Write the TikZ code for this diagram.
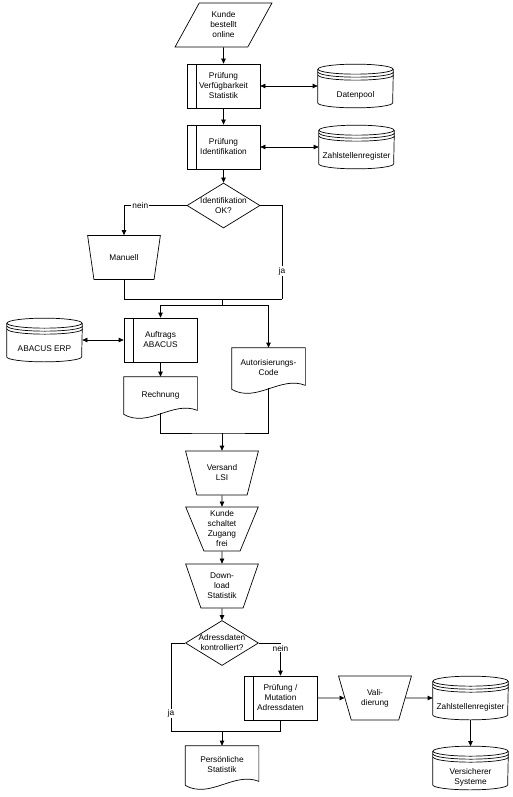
\documentclass[tikz,border=0pt]{standalone}
\usepackage{fontspec}
\setmainfont{Liberation Sans}
\usetikzlibrary{calc,shapes.geometric,arrows.meta}
\tikzset{
	every node/.style={font=\fontsize{8.3}{10}\selectfont, align=center},
	proc/.style={draw, minimum width=73pt, minimum height=44pt, inner sep=1pt,
		path picture={\draw ([xshift=9pt]path picture bounding box.north west) -- ([xshift=9pt]path picture bounding box.south west);}},
	manual/.style={draw, trapezium, trapezium stretches=true, shape border rotate=180,
		trapezium left angle=68, trapezium right angle=68, minimum width=73pt, minimum height=44pt, inner sep=1pt},
	inout/.style={draw, trapezium, trapezium stretches=true,
		trapezium left angle=63.4, trapezium right angle=116.6, minimum width=97pt, minimum height=44pt, inner sep=1pt},
	decide/.style={draw, diamond, aspect=1.6, minimum width=73pt, minimum height=45pt, inner sep=-6pt},
	disk/.style={minimum width=75pt, minimum height=43pt, inner sep=0pt},
	doc/.style={minimum width=73pt, minimum height=36pt, inner sep=1pt},
	lbl/.style={fill=white, inner sep=1pt}
}
\def\diskshape#1#2{
	\draw ($(#1.north west)+(0,5)$) -- ($(#1.south west)+(0,-5)$) arc (180:0:37.5 and 5) -- ($(#1.north east)+(0,5)$);
	\draw ($(#1.north)+(0,5)$) ellipse (37.5 and 5);
	\draw ($(#1.north east)+(0,8)$) arc (0:180:37.5 and 5);
	\draw ($(#1.north east)+(0,11)$) arc (0:180:37.5 and 5);
	\node (#1-txt) at ($(#1)+(0,9)$) {#2};
}
\def\docshape#1{
	\draw ($(#1.south west)+(0,1)$) -- (#1.north west) -- (#1.north east) -- ($(#1.south east)+(0,-3)$)
		.. controls ($(#1.south)+(12,-13)$) and ($(#1.south)+(-12,15)$) .. ($(#1.south west)+(0,1)$);
}

\begin{document}
\begin{tikzpicture}[x=1pt, y=-1pt, line width=0.7pt, >={Triangle[length=5pt,width=4.5pt]}]
	\useasboundingbox (0,0) rectangle (513,797);
	%%%%% START %%%%%
	
	\node[inout] (start) at (223.5,25) {Kunde\\bestellt\\online};
	\node[proc] (pruef1) at (223.5,86) {Prüfung\\Verfügbarkeit\\Statistik};
	\node[disk] (pool) at (355.5,86) {};
	\diskshape{pool}{Datenpool}
	\node[proc] (pruef2) at (223.5,147) {Prüfung\\Identifikation};
	\node[disk] (zahl1) at (356.5,147) {};
	\diskshape{zahl1}{Zahlstellenregister}
	\node[decide] (ident) at (223.5,205.5) {Identifikation\\OK?};
	\node[manual] (manuell) at (124,257.5) {Manuell};
	
	\node[proc] (auftrag) at (160.5,340) {Auftrags\\ABACUS};
	\node[disk] (erp) at (44.5,340) {};
	\diskshape{erp}{ABACUS ERP}
	\node[doc] (rechnung) at (160.5,395) {Rechnung};
	\docshape{rechnung}
	\node[doc, minimum height=40pt] (autor) at (268.5,368) {Autorisierungs-\\Code};
	\docshape{autor}
	
	\node[manual] (versand) at (222,473) {Versand\\LSI};
	\node[manual] (zugang) at (222,529) {Kunde\\schaltet\\Zugang\\frei};
	\node[manual] (download) at (222,586) {Down-\\load\\Statistik};
	\node[decide] (adress) at (222,643) {Adressdaten\\kontrolliert?};
	
	\node[proc] (mutation) at (280.5,698) {Prüfung /\\Mutation\\Adressdaten};
	\node[manual] (valid) at (375,698) {Vali-\\dierung};
	\node[disk] (zahl2) at (470.5,698) {};
	\diskshape{zahl2}{Zahlstellenregister}
	\node[disk] (versich) at (470.5,768) {};
	\diskshape{versich}{Versicherer\\Systeme}
	\node[doc, minimum height=38pt] (statistik) at (222,765) {Persönliche\\Statistik};
	\docshape{statistik}
	
	\coordinate (jaecke) at (282,299);
	\coordinate (mitte1) at (222,299);
	\coordinate (split1) at (222,305);
	\coordinate (mitte2) at (222,433);
	\coordinate (jaecke2) at (171,731);
	\coordinate (mitte3) at (222,731);
	
	\draw[->] (start) -- (pruef1);
	\draw[<->] (pruef1) -- (pool);
	\draw[->] (pruef1) -- (pruef2);
	\draw[<->] (pruef2) -- (zahl1);
	\draw[->] (pruef2) -- (ident);
	\draw[->] (ident.west) -| (manuell.north) node[lbl, pos=0.37] {nein};
	\draw (ident.east) -| (jaecke) node[lbl, pos=0.85] {ja};
	\draw (manuell.south) |- (jaecke);
	\draw (mitte1) -- (split1);
	\draw[->] (split1) -| (auftrag.north);
	\draw[->] (split1) -| (autor.north);
	
	\draw[<->] (erp) -- (auftrag);
	\draw[->] (auftrag) -- (rechnung);
	\draw (rechnung.south) |- (mitte2) -| (autor.south);
	\draw[->] (mitte2) -- (versand);
	\draw[->] (versand) -- (zugang);
	\draw[->] (zugang) -- (download);
	\draw[->] (download) -- (adress);
	
	\draw (adress.west) -| (jaecke2) node[lbl, pos=0.9] {ja} -| (mutation.south);
	\draw[->] (mitte3) -- (statistik);
	\draw[->] (adress.east) -| (mutation.north) node[lbl, pos=0.58] {nein};
	\draw[->] (mutation) -- (valid);
	\draw[->] (valid) -- (zahl2);
	\draw[->] (zahl2) -- (versich);
	
	%%%%% END %%%%%
\end{tikzpicture}
\end{document}
